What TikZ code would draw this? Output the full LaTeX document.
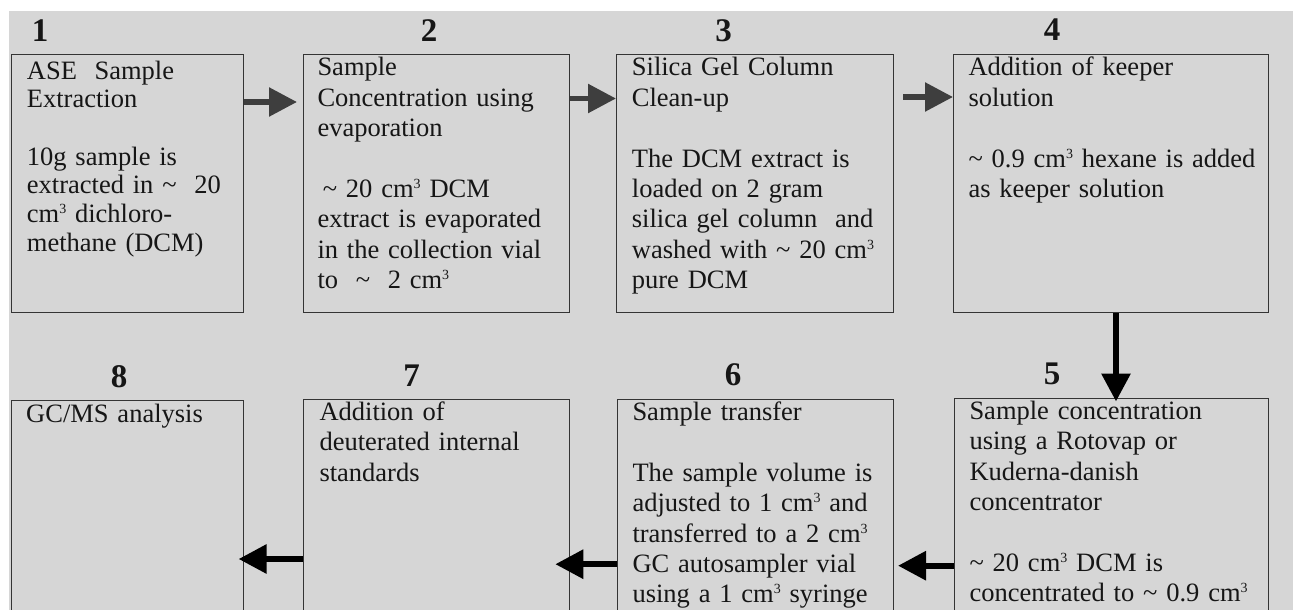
\documentclass[tikz,border=0pt]{standalone}
\usepackage{fontspec}
\setmainfont{Liberation Serif}
\usetikzlibrary{arrows.meta}

\definecolor{paper}{RGB}{214,214,214}
\definecolor{frame}{RGB}{52,52,52}
\definecolor{ink}{RGB}{22,22,22}
\definecolor{greyarrow}{RGB}{62,62,62}

% small raised "3" for cubic centimetres
\newcommand{\cmcube}{cm\raisebox{9pt}{\fontsize{14}{14}\selectfont 3}}
\newcommand{\approxsign}{\textasciitilde}

\tikzset{
  stepbox/.style={draw=frame, line width=1.3pt, rectangle, anchor=north west, inner sep=0pt},
  toprow/.style={stepbox, minimum height=258pt},
  lowrow/.style={stepbox, minimum height=240pt},
  boxtext/.style={anchor=base west, inner sep=0pt, text width=300pt, align=left, text=ink,
                  font=\fontsize{26.5}{30.4}\selectfont},
  stepnum/.style={anchor=base, inner sep=0pt, text=ink, font=\fontsize{33}{36}\selectfont\bfseries},
  flow/.style={line width=6pt, -{Triangle[length=28pt,width=28pt]}},
  flowgrey/.style={flow, draw=greyarrow, fill=greyarrow},
  flowblack/.style={flow, draw=black, fill=black},
}

\begin{document}
\begin{tikzpicture}[x=1pt, y=-1pt]
\useasboundingbox (0,0) rectangle (1293,610);
\clip (0,0) rectangle (1293,610);
\fill[white] (0,0) rectangle (1293,610);
\fill[paper] (9,11) rectangle (1293,610);

% upper row of steps
\node[toprow, minimum width=232pt] (b1) at (11,54) {};
\node[toprow, minimum width=266pt] (b2) at (303,54) {};
\node[toprow, minimum width=277pt] (b3) at (616,54) {};
\node[toprow, minimum width=315pt] (b4) at (953,54) {};

% lower row of steps (running on below the page edge)
\node[lowrow, minimum width=232pt] (b8) at (11,400) {};
\node[lowrow, minimum width=266pt] (b7) at (303,399) {};
\node[lowrow, minimum width=276pt] (b6) at (617,399) {};
\node[lowrow, minimum width=314pt] (b5) at (954,398) {};

% step numbers
\node[stepnum] (n1) at (40,41.5) {1};
\node[stepnum] (n2) at (429,41.5) {2};
\node[stepnum] (n3) at (723.5,41.5) {3};
\node[stepnum] (n4) at (1052,41) {4};
\node[stepnum] (n5) at (1052,384) {5};
\node[stepnum] (n6) at (733,385.5) {6};
\node[stepnum] (n7) at (411.5,386) {7};
\node[stepnum] (n8) at (119,387) {8};

% step descriptions
\node[boxtext, font=\fontsize{26.5}{28.7}\selectfont] (t1) at (26.7,79)
  {ASE\ \ Sample\\Extraction\\[28.7pt]10g sample is\\extracted in \approxsign\ \ 20\\\cmcube\ dichloro-\\methane (DCM)};
\node[boxtext] (t2) at (317.3,76)
  {Sample\\Concentration using\\evaporation\\[30.4pt]\hspace*{0.2em}\approxsign\ 20 \cmcube\ DCM\\extract is evaporated\\in the collection vial\\to \ \approxsign\ \ 2 \cmcube};
\node[boxtext] (t3) at (631.7,76)
  {Silica Gel Column\\Clean-up\\[30.4pt]The DCM extract is\\loaded on 2 gram\\silica gel column\ \ and\\washed with \approxsign\ 20 \cmcube\\pure DCM};
\node[boxtext] (t4) at (968.3,76)
  {Addition of keeper\\solution\\[30.4pt]\approxsign\ 0.9 \cmcube\ hexane is added\\as keeper solution};
\node[boxtext] (t5) at (969.3,419.5)
  {Sample concentration\\using a Rotovap or\\Kuderna-danish\\concentrator\\[30.4pt]\approxsign\ 20 \cmcube\ DCM is\\concentrated to \approxsign\ 0.9 \cmcube};
\node[boxtext] (t6) at (632.3,420.5)
  {Sample transfer\\[30.4pt]The sample volume is\\adjusted to 1 \cmcube\ and\\transferred to a 2 \cmcube\\GC autosampler vial\\using a 1 \cmcube\ syringe};
\node[boxtext] (t7) at (319.3,420.5)
  {Addition of\\deuterated internal\\standards};
\node[boxtext] (t8) at (26,422)
  {GC/MS analysis};

% flow between the steps
\draw[flowgrey, line width=5.5pt, shorten >=6pt] ([yshift=-48pt]b1.north east) -- ([yshift=-48pt]b2.north west);
\draw[flowgrey, line width=5.5pt] ([yshift=-44.5pt]b2.north east) -- ([yshift=-44.5pt]b3.north west);
\draw[flowgrey, line width=5.5pt, shorten <=9pt] ([yshift=-43pt]b3.north east) -- ([yshift=-43pt]b4.north west);
\draw[flowblack, shorten >=-3.5pt] ([xshift=163pt]b4.south west) -- ([xshift=162pt]b5.north west);
\draw[flowblack, shorten >=3.7pt] ([yshift=-167.7pt]b5.north west) -- ([yshift=-166.7pt]b6.north east);
\draw[flowblack, shorten >=-15pt] ([yshift=-165.2pt]b6.north west) -- ([yshift=-165.2pt]b7.north east);
\draw[flowblack, shorten >=-5.7pt] ([yshift=-160pt]b7.north west) -- ([yshift=-159pt]b8.north east);
\end{tikzpicture}
\end{document}
